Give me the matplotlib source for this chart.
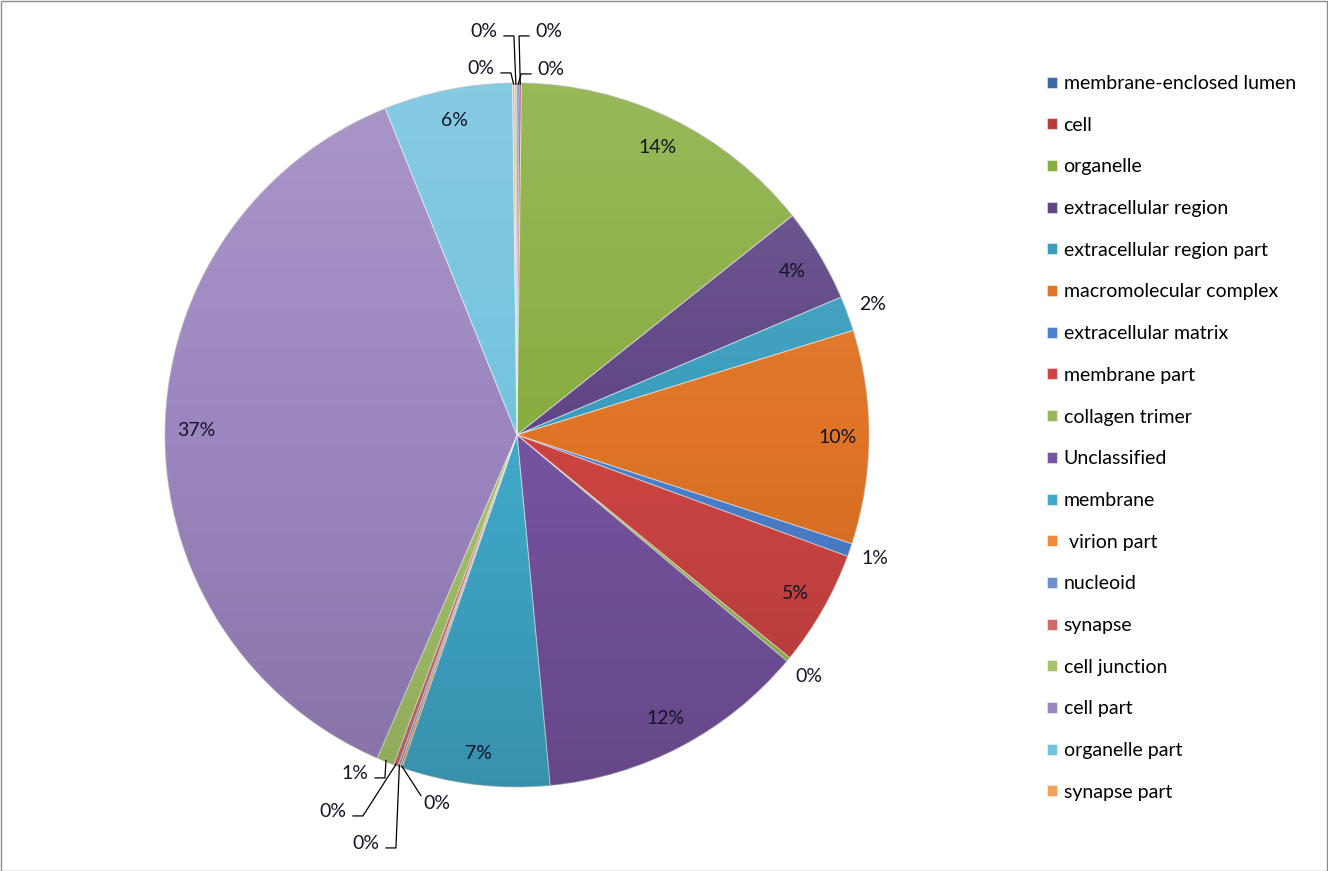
import numpy as np
import matplotlib
matplotlib.use('Agg')
import matplotlib.pyplot as plt
from matplotlib.patches import Circle, Rectangle

plt.rcParams['font.family'] = ['Lato', 'DejaVu Sans']

# categories in legend order (the pie has one more tiny slice that the legend does not show)
categories = ['membrane-enclosed lumen', 'cell', 'organelle', 'extracellular region',
              'extracellular region part', 'macromolecular complex', 'extracellular matrix',
              'membrane part', 'collagen trimer', 'Unclassified', 'membrane', ' virion part',
              'nucleoid', 'synapse', 'cell junction', 'cell part', 'organelle part', 'synapse part']
# share of each slice in percent, last value = unnamed slice
values = [0.1, 0.1, 14.1, 4.3, 1.6, 9.8, 0.6, 5.3, 0.2, 12.4, 6.8, 0.1, 0.1, 0.2, 0.8,
          37.4, 5.9, 0.1, 0.1]
colors = ['#3C67A8', '#B83C3A', '#88AD40', '#5F4585', '#3A9DBC', '#DF7426', '#4A7FCB',
          '#CC4442', '#98B855', '#76539F', '#40A9C9', '#EE8A3A', '#6E8FCB', '#D06A69',
          '#A6C46A', '#9C86C0', '#74C3DE', '#F2A15C', '#A7BCDD']

fig = plt.figure(figsize=(13.28, 8.71), dpi=100)
fig.patch.set_facecolor('white')

# pie axes: 1 data unit = 352 px, centre at pixel (517, 435)
R, CX, CY = 352.0, 517.0, 435.0
ax = fig.add_axes([0, 0, 1000 / 1328, 1])

def px(x, y):
    return (x - CX) / R, (CY - y) / R

wedges, _ = ax.pie(values, colors=colors, startangle=90, counterclock=False, radius=1.0,
                   wedgeprops=dict(edgecolor=(1, 1, 1, 0.45), linewidth=0.8))
ax.axis('off')

# soft vertical shading like the original
grad = np.linspace(0, 1, 256)[:, None]
shade = np.zeros((256, 2, 4))
shade[..., :3] = np.where(grad[..., None] < 0.5, 1.0, 0.0)
shade[..., 3] = np.abs(grad - 0.5) * 0.28
im = ax.imshow(shade, extent=(-1, 1, -1, 1), origin='upper', aspect='auto', zorder=3)
im.set_clip_path(Circle((0, 0), 1.0, transform=ax.transData))
ax.add_patch(Circle((0, 0), 1.0, fill=False, edgecolor=(0, 0, 0, 0.15), lw=0.8, zorder=4))
ax.set_xlim(-CX / R, (1000 - CX) / R)
ax.set_ylim((CY - 871) / R, CY / R)

# labels placed by hand for the clustered tiny slices (pixel position of the text)
manual = {0: (551, 69), 1: (549, 31), 17: (481, 68), 18: (484, 31),
          11: (437, 803), 12: (366, 843), 13: (333, 811), 14: (355, 773)}

lab_color = '#141428'
total = sum(values)
for i, w in enumerate(wedges):
    pct = values[i] / total * 100
    txt = '%d%%' % int(round(pct))
    mid = np.deg2rad((w.theta1 + w.theta2) / 2)
    ax_, ay_ = np.cos(mid), np.sin(mid)
    if i in manual:
        tx, ty = px(*manual[i])
        s = 1 if ax_ > tx else -1
        x0 = tx + s * 0.055
        x1 = tx + s * 0.085
        if i == 11:
            x0 = x1 = tx - 0.045
            ty2 = ty + 0.02
        else:
            ty2 = ty - 0.014
        ax.plot([x0, x1, ax_ * 0.995], [ty2, ty2, ay_ * 0.995], color='black', lw=0.9,
                zorder=6, solid_capstyle='butt')
        ax.text(tx, ty, txt, ha='center', va='center', fontsize=14, color=lab_color, zorder=7)
    elif pct >= 3:
        ax.text(0.91 * ax_, 0.91 * ay_, txt, ha='center', va='center', fontsize=14,
                color=lab_color, zorder=7)
    else:
        ax.text(1.075 * ax_, 1.075 * ay_, txt, ha='center', va='center', fontsize=14,
                color=lab_color, zorder=7)

# legend
fig.legend(wedges[:18], categories, loc='upper left', bbox_to_anchor=(1047 / 1328, 1 - 75 / 871),
           frameon=False, fontsize=14, handlelength=0.5, handleheight=0.5,
           handletextpad=0.35, labelspacing=1.27, borderpad=0, borderaxespad=0)

# thin frame round the chart area
fig.add_artist(Rectangle((0.5 / 1328, 0.5 / 871), 1 - 1.5 / 1328, 1 - 1.5 / 871,
                         transform=fig.transFigure, fill=False, edgecolor='#8c8c8c', lw=1))

fig.savefig('out.png', dpi=100)
